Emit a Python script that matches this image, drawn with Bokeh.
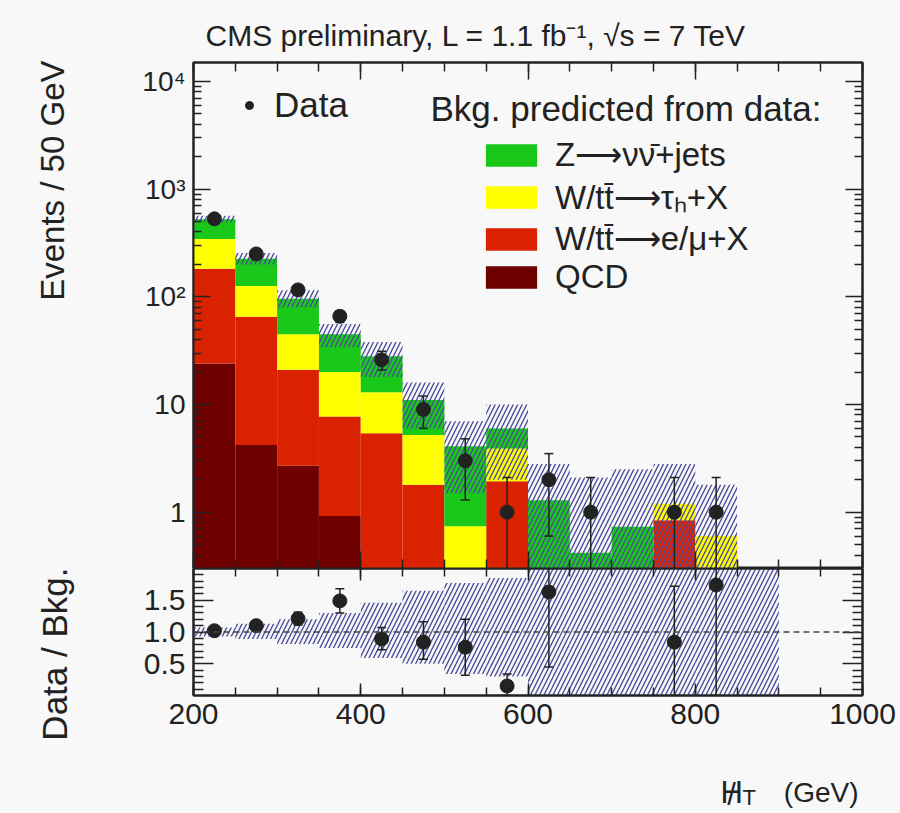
import numpy as np
from bokeh.plotting import figure
from bokeh.layouts import column, row
from bokeh.models import (FixedTicker, SingleIntervalTicker, LinearAxis, LogAxis,
                          Range1d, Label, Legend, LegendItem, Span, PrintfTickFormatter,
                          CustomJSTickFormatter)
from bokeh.embed import file_html
from bokeh.resources import INLINE

nan = float("nan")

# ---------------- data ----------------
bin_low = [200, 250, 300, 350, 400, 450, 500, 550, 600, 650, 700, 750, 800, 850]
bin_high = [250, 300, 350, 400, 450, 500, 550, 600, 650, 700, 750, 800, 850, 900]

qcd = [24, 4.2, 2.7, 0.92, 0, 0, 0, 0, 0, 0, 0, 0, 0, 0]
w_lep = [158, 61, 18.3, 6.8, 5.4, 1.8, 0.1, 1.94, 0, 0, 0, 0.84, 0, 0]
w_tau = [163, 61, 24, 12.3, 7.6, 3.4, 0.64, 1.96, 0, 0, 0, 0.36, 0.6, 0]
z_nunu = [180, 99, 51, 25, 15, 5.8, 3.36, 2.1, 1.29, 0.42, 0.73, 0, 0, 0]

bkg_unc_low = [490, 200, 80, 34, 18, 6, 1.5, 2, 0.01, 0.01, 0.01, 0.01, 0.01, nan]
bkg_unc_high = [565, 255, 115, 56, 38, 16, 7, 10, 2.8, 2.1, 2.5, 2.8, 1.8, nan]

data = [530, 250, 116, 66, 26, 9, 3, 1, 2, 1, nan, 1, 1, nan]
data_err_up = [23, 16, 11, 8.1, 5.2, 3.0, 1.8, 1.1, 1.5, 1.1, nan, 1.1, 1.1, nan]
data_err_down = [23, 16, 11, 8.1, 5.1, 3.0, 1.7, 1.0, 1.4, 1.0, nan, 1.0, 1.0, nan]

ratio = [1.02, 1.10, 1.21, 1.49, 0.89, 0.84, 0.76, 0.15, 1.63, nan, nan, 0.84, 1.74, nan]
ratio_err_up = [0.05, 0.07, 0.10, 0.19, 0.18, 0.32, 0.44, 0.19, 1.2, nan, nan, 0.88, 1.74, nan]
ratio_err_down = [0.05, 0.07, 0.10, 0.19, 0.17, 0.27, 0.44, 0.15, 1.18, nan, nan, 0.84, 1.74, nan]
ratio_unc_low = [0.93, 0.89, 0.81, 0.75, 0.59, 0.50, 0.34, 0.30, -1, -1, -1, -1, -1, -1]
ratio_unc_high = [1.07, 1.13, 1.20, 1.30, 1.46, 1.65, 1.77, 1.85, 3, 3, 3, 3, 3, 3]

log_tick_labels = {1: "1", 10: "10", 100: "10²", 1000: "10³", 10000: "10⁴"}

# ---------------- style ----------------
FONT = "Liberation Sans"
BG = "#f7f8f7"
INK = "#222222"
GREEN = "#19c819"
YELLOW = "#ffff00"
RED = "#db2200"
DARK = "#6e0000"
HATCH = "#4c4c9c"

centers = (np.array(bin_low) + np.array(bin_high)) / 2.0
n = len(bin_low)


def style_axis(ax, tick_major, tick_minor, label_size=None, standoff=0):
    ax.axis_line_color = INK
    ax.axis_line_width = 2
    ax.major_tick_line_color = INK
    ax.minor_tick_line_color = INK
    ax.major_tick_line_width = 1.5
    ax.minor_tick_line_width = 1.5
    ax.major_tick_in = tick_major
    ax.major_tick_out = 0
    ax.minor_tick_in = tick_minor
    ax.minor_tick_out = 0
    ax.major_label_text_font = FONT
    ax.major_label_text_color = INK
    ax.major_label_standoff = standoff
    if label_size is None:
        ax.formatter = CustomJSTickFormatter(code="return ''")
        ax.major_label_text_font_size = "1px"
    else:
        ax.major_label_text_font_size = label_size


def canvas(w, h, x0, x1, y0, y1, **kw):
    c = figure(frame_width=w, frame_height=h, x_range=Range1d(x0, x1),
               y_range=Range1d(y0, y1), x_axis_location=None, y_axis_location=None,
               output_backend="svg", toolbar_location=None, **kw)
    c.outline_line_color = None
    c.background_fill_color = BG
    c.border_fill_color = BG
    c.grid.visible = False
    return c


# ---------------- main panel ----------------
p = figure(frame_width=669, frame_height=506, y_axis_type="log",
           x_range=Range1d(200, 1000), y_range=Range1d(0.3, 15000),
           output_backend="svg", toolbar_location=None,
           min_border_left=93, min_border_right=38, min_border_top=62,
           min_border_bottom=0)
p.background_fill_color = BG
p.border_fill_color = BG
p.outline_line_color = INK
p.outline_line_width = 2
p.grid.visible = False

p.title.text = "CMS preliminary, L = 1.1 fb⁻¹, √s = 7 TeV"
p.title.text_font = FONT
p.title.text_font_size = "30px"
p.title.text_font_style = "normal"
p.title.text_color = INK
p.title.align = "left"
p.title.offset = 12
p.title.standoff = 22

log_major = [1, 10, 100, 1000, 10000]
log_minor = [k * 10.0 ** e for e in range(-1, 5) for k in range(2, 10)]

p.yaxis.ticker = FixedTicker(ticks=log_major, minor_ticks=log_minor)
p.yaxis.major_label_overrides = log_tick_labels
style_axis(p.yaxis[0], 17, 8, "28px", 8)
p.xaxis.ticker = SingleIntervalTicker(interval=200, num_minor_ticks=4)
style_axis(p.xaxis[0], 17, 9)

ax_top = LinearAxis(ticker=SingleIntervalTicker(interval=200, num_minor_ticks=4))
style_axis(ax_top, 17, 9)
p.add_layout(ax_top, "above")
ax_right = LogAxis(ticker=FixedTicker(ticks=log_major, minor_ticks=log_minor))
style_axis(ax_right, 17, 8)
p.add_layout(ax_right, "right")

# stacked histogram
layers = [("QCD", qcd, DARK),
          ("W/tt̄⟶e/μ+X", w_lep, RED),
          ("W/tt̄⟶τₕ+X", w_tau, YELLOW),
          ("Z⟶νν̄+jets", z_nunu, GREEN)]
bottom = np.full(n, 1e-3)
rends = []
for name, vals, col in layers:
    top = bottom + np.array(vals, dtype=float)
    rends.append((name, p.quad(left=bin_low, right=bin_high, bottom=bottom, top=top,
                               fill_color=col, line_color=None)))
    bottom = top

# uncertainty band
p.quad(left=bin_low, right=bin_high, bottom=bkg_unc_low, top=bkg_unc_high,
       fill_color=None, line_color=None, hatch_pattern="/", hatch_color=HATCH,
       hatch_weight=1.4, hatch_scale=9)

# data
d = np.array(data, dtype=float)
d_lo = np.maximum(d - np.array(data_err_down), 1e-3)
d_hi = d + np.array(data_err_up)
p.segment(x0=centers, y0=d_lo, x1=centers, y1=d_hi, line_color=INK, line_width=1.5)
p.scatter(x=centers, y=d_lo, marker="dash", size=9, line_color=INK, line_width=1.5)
p.scatter(x=centers, y=d_hi, marker="dash", size=9, line_color=INK, line_width=1.5)
r_data = p.scatter(x=centers, y=d, size=14, fill_color=INK, line_color=INK)

# legends
leg_data = Legend(items=[LegendItem(label="Data", renderers=[r_data])],
                  location=(46, 442))
leg_bkg = Legend(items=[LegendItem(label=name, renderers=[rr])
                        for name, rr in reversed(rends)],
                 location=(286, 272))
for lg in (leg_data, leg_bkg):
    lg.background_fill_alpha = 0
    lg.border_line_alpha = 0
    lg.padding = 0
    lg.margin = 0
    lg.label_text_font = FONT
    lg.label_text_color = INK
leg_data.label_text_font_size = "35px"
leg_data.glyph_width = 20
leg_data.glyph_height = 42
leg_data.label_height = 42
leg_data.label_standoff = 15
leg_bkg.label_text_font_size = "33px"
leg_bkg.glyph_width = 64
leg_bkg.glyph_height = 28
leg_bkg.label_height = 28
leg_bkg.label_standoff = 12
leg_bkg.spacing = 0
p.add_layout(leg_data)
p.add_layout(leg_bkg)

p.add_layout(Label(x=237, y=441, x_units="screen", y_units="screen",
                   text="Bkg. predicted from data:", text_font=FONT,
                   text_font_size="35px", text_color=INK))

# ---------------- ratio panel ----------------
r = figure(frame_width=669, frame_height=127,
           x_range=p.x_range, y_range=Range1d(0, 2),
           output_backend="svg", toolbar_location=None,
           min_border_left=93, min_border_right=38, min_border_top=0,
           min_border_bottom=47)
r.background_fill_color = BG
r.border_fill_color = BG
r.outline_line_color = INK
r.outline_line_width = 2
r.grid.visible = False

r_major = [0.5, 1.0, 1.5]
r_minor = [0.1, 0.2, 0.3, 0.4, 0.6, 0.7, 0.8, 0.9, 1.1, 1.2, 1.3, 1.4, 1.6, 1.7, 1.8, 1.9]
r.yaxis.ticker = FixedTicker(ticks=r_major, minor_ticks=r_minor)
r.yaxis.formatter = PrintfTickFormatter(format="%.1f")
style_axis(r.yaxis[0], 20, 10, "30px", 8)
r.xaxis.ticker = SingleIntervalTicker(interval=200, num_minor_ticks=4)
style_axis(r.xaxis[0], 12, 8, "30px", 8)

rx_top = LinearAxis(ticker=SingleIntervalTicker(interval=200, num_minor_ticks=4))
style_axis(rx_top, 12, 8)
r.add_layout(rx_top, "above")
ry_right = LinearAxis(ticker=FixedTicker(ticks=r_major, minor_ticks=r_minor))
style_axis(ry_right, 20, 10)
r.add_layout(ry_right, "right")

r.quad(left=bin_low, right=bin_high, bottom=ratio_unc_low, top=ratio_unc_high,
       fill_color=None, line_color=None, hatch_pattern="/", hatch_color=HATCH,
       hatch_weight=1.4, hatch_scale=9)
r.add_layout(Span(location=1.0, dimension="width", line_color="#444444",
                  line_dash="6 4", line_width=1.5))

rt = np.array(ratio, dtype=float)
rt_lo = rt - np.array(ratio_err_down)
rt_hi = rt + np.array(ratio_err_up)
r.segment(x0=centers, y0=rt_lo, x1=centers, y1=rt_hi, line_color=INK, line_width=1.5)
r.scatter(x=centers, y=rt_lo, marker="dash", size=9, line_color=INK, line_width=1.5)
r.scatter(x=centers, y=rt_hi, marker="dash", size=9, line_color=INK, line_width=1.5)
r.scatter(x=centers, y=rt, size=14, fill_color=INK, line_color=INK)

# ---------------- left strip: y-axis titles (page pixel coordinates) ----------------
strip = canvas(100, 813, 0, 100, 813, 0, min_border=0)
strip.add_layout(Label(x=52, y=60, text="Events / 50 GeV", text_font=FONT,
                       text_font_size="33px", text_color=INK, angle=np.pi / 2,
                       text_align="right", text_baseline="alphabetic"))
strip.add_layout(Label(x=54, y=567, text="Data / Bkg.", text_font=FONT,
                       text_font_size="35px", text_color=INK, angle=np.pi / 2,
                       text_align="right", text_baseline="alphabetic"))

# ---------------- footer: x-axis title (page pixel coordinates) ----------------
foot = canvas(669, 71, 193, 862, 813, 742, min_border_left=93, min_border_right=38,
              min_border_top=0, min_border_bottom=0)
foot.add_layout(Label(x=720, y=792, text="H", text_font=FONT, text_font_size="31px",
                      text_color=INK, text_baseline="alphabetic"))
foot.add_layout(Label(x=731, y=794, text="/", text_font=FONT, text_font_size="31px",
                      text_color=INK, text_align="center", text_baseline="alphabetic"))
foot.add_layout(Label(x=742, y=797, text="T", text_font=FONT, text_font_size="22px",
                      text_color=INK, text_baseline="alphabetic"))
foot.add_layout(Label(x=858, y=792, text="(GeV)", text_font=FONT, text_font_size="28px",
                      text_color=INK, text_align="right", text_baseline="alphabetic"))

layout = row(strip, column(p, r, foot, spacing=0), spacing=0)
layout.styles = {"background-color": BG}
open("out.html", "w").write(file_html(layout, INLINE))
